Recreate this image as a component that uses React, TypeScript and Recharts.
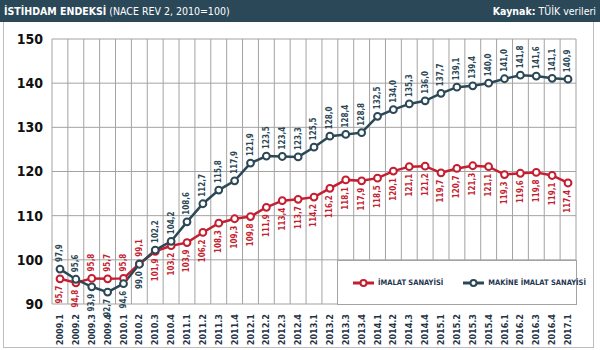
import React from "react";
import {
    LineChart,
    Line,
    XAxis,
    YAxis,
    CartesianGrid,
} from "recharts";

const periods = [
    "2009.1", "2009.2", "2009.3", "2009.4",
    "2010.1", "2010.2", "2010.3", "2010.4",
    "2011.1", "2011.2", "2011.3", "2011.4",
    "2012.1", "2012.2", "2012.3", "2012.4",
    "2013.1", "2013.2", "2013.3", "2013.4",
    "2014.1", "2014.2", "2014.3", "2014.4",
    "2015.1", "2015.2", "2015.3", "2015.4",
    "2016.1", "2016.2", "2016.3", "2016.4",
    "2017.1",
];

const imalat = [
    95.7, 94.8, 95.8, 95.7, 95.8, 99.1, 101.9, 103.2,
    103.9, 106.2, 108.3, 109.3, 109.8, 111.9, 113.4, 113.7,
    114.2, 116.2, 118.1, 117.9, 118.5, 120.1, 121.1, 121.2,
    119.7, 120.7, 121.3, 121.1, 119.3, 119.6, 119.8, 119.1,
    117.4,
];

const makine = [
    97.9, 95.6, 93.9, 92.7, 94.6, 99.0, 102.2, 104.2,
    108.6, 112.7, 115.8, 117.9, 121.9, 123.5, 123.4, 123.3,
    125.5, 128.0, 128.4, 128.8, 132.5, 134.0, 135.3, 136.0,
    137.7, 139.1, 139.4, 140.0, 141.0, 141.8, 141.6, 141.1,
    140.9,
];

const yTicks = [90, 100, 110, 120, 130, 140, 150];

const RED = "#c41e30";
const DARK = "#2c4756";
const GRID = "#a3a3a3";
const FONT = "'Liberation Sans Narrow', 'DejaVu Sans Condensed', 'Roboto', sans-serif";

const data = periods.map((p, i) => ({ name: p, imalat: imalat[i], makine: makine[i] }));

const fmt = (v: number) => v.toFixed(1).replace(".", ",");

// label goes on the outer side of the pair of lines
const makeLabel = (key: "imalat" | "makine", color: string) => (props: any) => {
    const { x, y, index, value } = props;
    const other = key === "imalat" ? makine[index] : imalat[index];
    const above = value >= other;
    const ty = above ? y - 7 : y + 7;
    return (
        <text
            x={x}
            y={ty}
            transform={`rotate(-90, ${x}, ${ty})`}
            textAnchor={above ? "start" : "end"}
            dominantBaseline="central"
            fill={color}
            fontSize={8}
            fontWeight={600}
            fontFamily={FONT}
        >
            {fmt(value)}
        </text>
    );
};

const XTick = (props: any) => {
    const { x, y, payload } = props;
    return (
        <text
            x={x}
            y={y}
            transform={`rotate(-90, ${x}, ${y})`}
            textAnchor="end"
            dominantBaseline="central"
            fill="#1f3347"
            fontSize={9}
            fontWeight={700}
            fontFamily={FONT}
        >
            {payload.value}
        </text>
    );
};

const LegendMark = ({ color }: { color: string }) => (
    <svg width={21} height={10} style={{ display: "block", flexShrink: 0 }}>
        <line x1={0} y1={5} x2={21} y2={5} stroke={color} strokeWidth={3} />
        <circle cx={10.5} cy={5} r={3} fill="#fff" stroke={color} strokeWidth={2} />
    </svg>
);

export default function App() {
    return (
        <div
            style={{
                position: "absolute",
                left: 0,
                top: 0,
                width: 600,
                height: 350,
                background: "#fff",
                fontFamily: FONT,
            }}
        >
            <div
                style={{
                    position: "absolute",
                    left: 0,
                    top: 0,
                    width: 600,
                    height: 22,
                    background: "#2b4858",
                    color: "#fff",
                    fontSize: 10.5,
                    display: "flex",
                    alignItems: "center",
                    justifyContent: "space-between",
                    padding: "0 4px 0 4px",
                    boxSizing: "border-box",
                }}
            >
                <span>
                    <b>İSTİHDAM ENDEKSİ</b> (NACE REV 2, 2010=100)
                </span>
                <span>
                    <b>Kaynak:</b> TÜİK verileri
                </span>
            </div>
            <div
                style={{
                    position: "absolute",
                    left: 3,
                    top: 22,
                    width: 591,
                    height: 326,
                    border: "1px solid #bdbdbd",
                    borderTop: "none",
                    boxSizing: "border-box",
                }}
            />
            <div style={{ position: "absolute", left: 0, top: 0 }}>
                <LineChart
                    width={600}
                    height={350}
                    data={data}
                    margin={{ top: 39, right: 24, left: 0, bottom: 0 }}
                >
                    <CartesianGrid
                        stroke={GRID}
                        strokeWidth={1}
                        verticalCoordinatesGenerator={({ offset }: any) =>
                            Array.from({ length: periods.length + 1 }, (_, i) =>
                                offset.left + (i * offset.width) / periods.length
                            )
                        }
                    />
                    <XAxis
                        dataKey="name"
                        interval={0}
                        height={46}
                        axisLine={false}
                        tickLine={false}
                        tick={<XTick />}
                        tickMargin={4}
                        padding={{ left: 8, right: 8 }}
                    />
                    <YAxis
                        width={52}
                        domain={[90, 150]}
                        ticks={yTicks}
                        axisLine={false}
                        tickLine={false}
                        tickSize={0}
                        tickMargin={9}
                        tick={{ fill: "#111", fontSize: 14, fontWeight: 700, fontFamily: FONT }}
                    />
                    <Line
                        dataKey="imalat"
                        stroke={RED}
                        strokeWidth={2.5}
                        dot={{ r: 3.4, fill: "#fff", stroke: RED, strokeWidth: 2 }}
                        label={makeLabel("imalat", RED)}
                        isAnimationActive={false}
                    />
                    <Line
                        dataKey="makine"
                        stroke={DARK}
                        strokeWidth={2.5}
                        dot={{ r: 3.4, fill: "#fff", stroke: DARK, strokeWidth: 2 }}
                        label={makeLabel("makine", DARK)}
                        isAnimationActive={false}
                    />
                </LineChart>
            </div>
            <div
                style={{
                    position: "absolute",
                    left: 337,
                    top: 260,
                    width: 240,
                    height: 45,
                    background: "#fff",
                    border: `1px solid ${GRID}`,
                    boxSizing: "border-box",
                    display: "flex",
                    alignItems: "center",
                    paddingLeft: 15,
                    fontWeight: 700,
                    fontSize: 7.5,
                    color: "#1f3550",
                    whiteSpace: "nowrap",
                }}
            >
                <LegendMark color={RED} />
                <span style={{ marginLeft: 4 }}>İMALAT SANAYİSİ</span>
                <span style={{ width: 20, flexShrink: 0 }} />
                <LegendMark color={DARK} />
                <span style={{ marginLeft: 4 }}>MAKİNE İMALAT SANAYİSİ</span>
            </div>
        </div>
    );
}
